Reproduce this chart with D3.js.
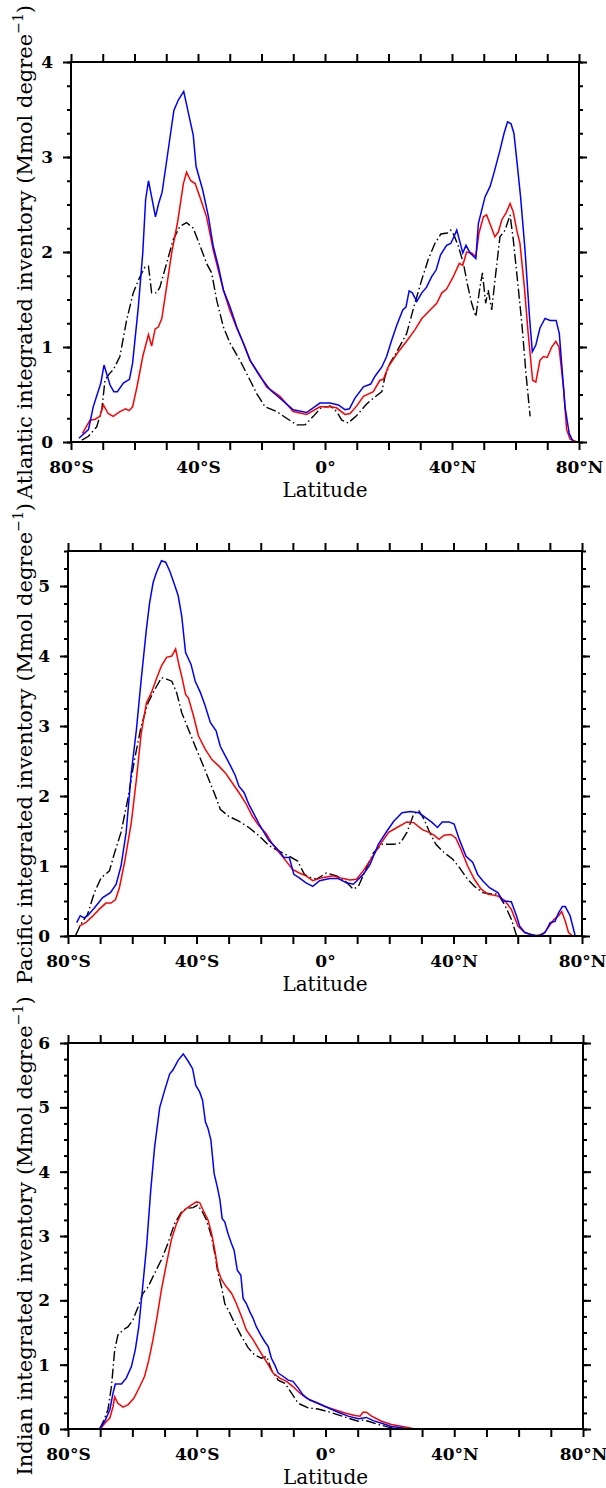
<!DOCTYPE html>
<html>
<head>
<meta charset="utf-8">
<script src="https://cdn.jsdelivr.net/npm/d3@7"></script>
<style>
  body { margin: 0; background: #fff; }
</style>
</head>
<body>
<svg id="chart" width="606" height="1488"></svg>
<script>
// x ticks: every 10 degrees, labelled every 40
const latTicks = d3.range(-80, 81, 10);
const latLabels = [-80, -40, 0, 40, 80];

// Atlantic: [latitude, Mmol per degree]
const atlanticBlue = [[-77.5,0.04],[-74.5,0.13],[-73.0,0.37],[-70.6,0.62],[-69.6,0.81],[-67.7,0.60],[-66.5,0.53],[-65.4,0.53],[-63.5,0.62],[-61.6,0.66],[-60.6,0.83],[-58.8,1.42],[-57.4,1.99],[-56.5,2.55],[-55.6,2.75],[-54.6,2.58],[-53.4,2.37],[-52.4,2.51],[-51.3,2.63],[-49.7,3.0],[-47.6,3.49],[-46.2,3.60],[-44.5,3.69],[-43.0,3.46],[-41.5,3.23],[-40.6,2.90],[-38.5,2.65],[-36.7,2.37],[-35.2,2.06],[-33.6,1.85],[-32.0,1.60],[-29.9,1.42],[-27.8,1.21],[-25.7,1.04],[-23.6,0.86],[-20.5,0.69],[-17.3,0.55],[-14.2,0.46],[-10.0,0.34],[-5.8,0.31],[-1.6,0.41],[1.6,0.41],[4.2,0.39],[6.3,0.34],[7.7,0.35],[9.4,0.46],[12.1,0.58],[14.4,0.61],[15.7,0.69],[17.9,0.79],[19.4,0.90],[21.0,1.07],[22.6,1.23],[24.5,1.39],[25.5,1.42],[26.5,1.59],[27.5,1.57],[28.9,1.48],[30.5,1.57],[32.0,1.63],[33.6,1.74],[35.0,1.81],[36.4,1.97],[38.3,2.07],[39.6,2.09],[40.6,2.16],[41.5,2.23],[42.3,2.13],[43.4,1.99],[44.4,2.07],[45.7,1.99],[47.5,1.93],[48.3,2.30],[50.4,2.58],[52.0,2.69],[53.2,2.83],[55.1,3.07],[56.4,3.25],[57.5,3.37],[58.6,3.35],[59.5,3.25],[60.4,2.97],[61.6,2.58],[63.0,2.02],[64.4,1.32],[65.3,0.95],[66.4,1.02],[67.7,1.20],[69.3,1.30],[70.9,1.28],[72.8,1.28],[73.8,1.14],[75.6,0.37],[76.9,0.09],[78.2,0.0],[79.5,0.0]];
const atlanticRed = [[-76.4,0.09],[-74.0,0.23],[-72.4,0.24],[-70.9,0.27],[-69.8,0.39],[-68.3,0.30],[-66.7,0.27],[-64.6,0.32],[-62.8,0.35],[-61.7,0.33],[-60.6,0.37],[-59.1,0.60],[-57.4,0.90],[-55.6,1.13],[-54.6,1.01],[-53.5,1.19],[-52.5,1.21],[-51.4,1.30],[-49.9,1.63],[-48.3,1.99],[-46.5,2.30],[-44.6,2.72],[-43.6,2.84],[-42.3,2.75],[-40.9,2.72],[-39.4,2.58],[-37.3,2.37],[-35.2,2.02],[-33.6,1.81],[-32.0,1.60],[-29.9,1.38],[-27.8,1.20],[-25.7,1.04],[-23.6,0.86],[-20.5,0.70],[-18.4,0.58],[-14.2,0.48],[-10.0,0.32],[-5.8,0.29],[-1.6,0.37],[1.6,0.37],[3.6,0.36],[6.3,0.29],[7.9,0.30],[10.0,0.38],[12.1,0.48],[15.2,0.53],[17.3,0.65],[18.4,0.66],[19.9,0.79],[23.1,0.95],[25.7,1.06],[28.3,1.18],[30.5,1.30],[33.1,1.39],[35.2,1.46],[36.8,1.57],[38.3,1.61],[40.4,1.74],[42.3,1.88],[43.4,1.86],[44.6,2.00],[46.2,1.99],[47.5,1.95],[48.5,2.20],[49.9,2.37],[50.9,2.39],[52.5,2.25],[53.5,2.16],[54.6,2.21],[55.7,2.34],[57.0,2.41],[58.3,2.51],[59.3,2.42],[60.4,2.23],[61.4,2.09],[62.8,1.63],[64.0,1.14],[65.4,0.65],[66.4,0.63],[67.7,0.86],[68.8,0.90],[70.0,0.89],[71.4,1.00],[72.7,1.06],[73.7,1.00],[75.1,0.58],[76.1,0.13],[77.2,0.03],[79.5,0.0]];
const atlanticBlack = [[-76.6,0.02],[-74.5,0.06],[-71.9,0.16],[-70.3,0.34],[-69.3,0.65],[-67.9,0.72],[-66.7,0.76],[-64.6,0.90],[-62.5,1.28],[-60.4,1.57],[-58.3,1.74],[-56.7,1.84],[-55.6,1.85],[-54.6,1.57],[-53.0,1.57],[-52.0,1.63],[-49.9,1.88],[-47.8,2.13],[-45.7,2.27],[-43.6,2.31],[-41.5,2.25],[-39.4,2.07],[-37.3,1.88],[-35.7,1.78],[-34.1,1.49],[-32.0,1.21],[-29.9,1.04],[-26.8,0.86],[-23.6,0.65],[-21.5,0.51],[-18.9,0.37],[-15.2,0.32],[-12.1,0.25],[-8.9,0.18],[-6.3,0.18],[-3.7,0.27],[-1.0,0.37],[1.0,0.37],[1.6,0.38],[3.7,0.32],[5.3,0.23],[7.3,0.20],[10.0,0.28],[13.1,0.40],[15.2,0.46],[17.9,0.53],[18.9,0.69],[20.5,0.83],[22.6,0.95],[25.7,1.14],[28.3,1.46],[30.5,1.71],[32.5,1.92],[34.6,2.09],[36.5,2.19],[38.5,2.20],[39.6,2.23],[40.6,2.18],[42.0,2.06],[43.6,1.88],[44.8,1.67],[46.2,1.46],[47.5,1.32],[48.8,1.63],[49.6,1.78],[50.6,1.46],[51.4,1.60],[52.5,1.39],[53.8,1.78],[55.1,2.16],[56.7,2.23],[58.3,2.39],[59.3,2.13],[60.6,1.71],[62.0,1.25],[63.3,0.72],[64.6,0.27]];

// Pacific
const pacificBlue = [[-77.3,0.19],[-76.2,0.29],[-75.0,0.26],[-73.9,0.29],[-71.8,0.40],[-69.2,0.55],[-66.8,0.62],[-65.0,0.74],[-63.5,1.00],[-61.9,1.48],[-60.3,2.33],[-58.7,2.95],[-57.2,3.67],[-55.6,4.38],[-54.6,4.76],[-53.5,5.05],[-52.5,5.19],[-50.9,5.36],[-49.6,5.34],[-48.3,5.21],[-46.7,5.00],[-45.7,4.86],[-44.6,4.57],[-43.4,4.05],[-41.7,3.88],[-40.4,3.64],[-38.8,3.48],[-37.3,3.29],[-35.7,3.05],[-33.9,2.93],[-32.6,2.71],[-31.0,2.57],[-29.4,2.43],[-27.9,2.29],[-26.8,2.14],[-25.2,2.05],[-23.7,1.88],[-22.1,1.74],[-20.5,1.60],[-19.0,1.48],[-17.4,1.36],[-15.8,1.29],[-14.2,1.21],[-12.7,1.12],[-11.1,1.12],[-9.7,0.88],[-8.0,0.83],[-5.9,0.76],[-3.8,0.71],[-1.7,0.79],[1.5,0.82],[4.1,0.82],[6.7,0.76],[8.8,0.74],[10.4,0.81],[11.9,0.88],[14.0,1.02],[16.6,1.31],[19.3,1.50],[21.4,1.64],[24.0,1.76],[26.6,1.78],[29.2,1.76],[31.3,1.69],[33.4,1.62],[35.0,1.55],[36.5,1.63],[38.6,1.63],[40.2,1.60],[41.8,1.38],[43.9,1.14],[46.0,1.05],[47.5,0.88],[49.1,0.79],[51.2,0.69],[53.8,0.62],[55.4,0.50],[58.0,0.49],[59.6,0.29],[60.6,0.14],[62.2,0.05],[64.3,0.02],[66.4,0.0],[68.5,0.05],[70.1,0.19],[71.6,0.21],[72.7,0.33],[73.9,0.42],[74.8,0.42],[76.3,0.29],[77.9,0.0]];
const pacificRed = [[-76.5,0.14],[-74.5,0.19],[-72.4,0.28],[-70.3,0.38],[-68.2,0.47],[-66.6,0.47],[-65.2,0.52],[-64.0,0.69],[-62.4,1.05],[-60.3,1.62],[-58.7,2.24],[-57.2,2.90],[-55.6,3.33],[-54.0,3.48],[-52.5,3.67],[-50.9,3.86],[-49.3,3.98],[-47.7,4.00],[-46.5,4.10],[-45.4,3.86],[-44.4,3.67],[-43.4,3.45],[-42.5,3.40],[-40.9,3.14],[-39.4,2.86],[-37.3,2.67],[-35.2,2.52],[-33.1,2.43],[-31.0,2.33],[-28.9,2.19],[-26.8,2.05],[-24.7,1.90],[-22.6,1.71],[-20.5,1.57],[-18.4,1.47],[-16.3,1.31],[-14.2,1.19],[-12.1,1.07],[-10.1,0.95],[-8.0,0.90],[-5.9,0.86],[-3.8,0.79],[-1.2,0.83],[2.5,0.86],[5.7,0.82],[7.7,0.80],[9.8,0.81],[11.9,0.93],[14.6,1.12],[17.2,1.31],[19.8,1.48],[22.4,1.55],[25.5,1.63],[27.6,1.62],[30.3,1.52],[32.4,1.48],[33.9,1.44],[35.5,1.38],[37.1,1.44],[39.2,1.45],[40.7,1.40],[42.3,1.24],[44.4,1.00],[46.5,0.81],[48.6,0.67],[50.7,0.60],[53.8,0.57],[55.9,0.51],[58.0,0.38],[60.1,0.14],[62.2,0.05],[65.3,0.0],[68.0,0.03],[69.5,0.12],[71.1,0.23],[72.7,0.29],[73.7,0.35],[74.8,0.21],[75.8,0.05],[76.9,0.01]];
const pacificBlack = [[-77.6,0.01],[-76.0,0.17],[-73.9,0.31],[-71.8,0.62],[-69.7,0.83],[-67.1,0.93],[-65.5,1.19],[-63.5,1.48],[-61.4,1.95],[-59.3,2.52],[-57.2,3.00],[-55.1,3.33],[-53.0,3.52],[-50.9,3.69],[-49.3,3.67],[-47.7,3.64],[-46.2,3.48],[-44.6,3.19],[-42.5,2.95],[-40.4,2.71],[-38.3,2.48],[-36.2,2.24],[-34.1,2.00],[-32.6,1.81],[-30.0,1.71],[-26.8,1.64],[-23.7,1.55],[-20.5,1.43],[-17.4,1.29],[-14.2,1.21],[-11.1,1.14],[-8.5,1.07],[-6.4,0.88],[-4.3,0.83],[-2.7,0.81],[0.4,0.90],[3.6,0.86],[6.2,0.79],[8.8,0.67],[10.4,0.71],[12.5,0.93],[15.1,1.19],[17.7,1.31],[21.4,1.31],[23.5,1.33],[25.5,1.48],[27.6,1.74],[29.2,1.79],[30.8,1.67],[32.4,1.50],[34.5,1.31],[37.1,1.19],[39.7,1.10],[41.8,0.98],[44.4,0.81],[46.5,0.71],[49.1,0.62],[51.7,0.60],[53.8,0.60],[55.9,0.45],[58.0,0.24],[59.6,0.01]];

// Indian
const indianBlue = [[-70.2,0.0],[-68.6,0.12],[-67.0,0.30],[-66.0,0.56],[-65.3,0.70],[-63.4,0.70],[-61.9,0.79],[-60.3,0.97],[-59.1,1.23],[-58.0,1.59],[-57.0,2.11],[-55.6,2.83],[-54.3,3.71],[-53.1,4.38],[-51.5,5.00],[-50.0,5.26],[-48.4,5.52],[-47.4,5.58],[-45.8,5.73],[-44.2,5.83],[-42.7,5.72],[-41.3,5.60],[-40.3,5.34],[-39.1,5.24],[-38.2,5.11],[-37.3,4.77],[-36.5,4.67],[-35.6,4.49],[-34.6,3.97],[-33.6,3.76],[-32.8,3.56],[-32.1,3.27],[-31.3,3.22],[-30.3,3.04],[-29.2,2.88],[-28.4,2.78],[-27.4,2.47],[-26.3,2.39],[-25.6,2.03],[-24.6,1.95],[-23.5,1.82],[-22.5,1.72],[-21.5,1.59],[-20.1,1.46],[-18.9,1.36],[-17.8,1.28],[-16.8,1.10],[-15.8,1.00],[-14.7,0.87],[-13.2,0.82],[-11.6,0.76],[-10.1,0.74],[-8.5,0.64],[-7.0,0.53],[-4.9,0.45],[-2.3,0.40],[0.8,0.33],[3.9,0.26],[7.0,0.20],[10.2,0.16],[12.7,0.18],[14.8,0.13],[17.4,0.09],[20.5,0.04],[24.7,0.01]];
const indianRed = [[-69.9,0.0],[-68.6,0.09],[-67.0,0.17],[-66.0,0.35],[-65.5,0.50],[-64.5,0.40],[-62.9,0.34],[-61.3,0.38],[-59.5,0.48],[-57.7,0.66],[-56.2,0.82],[-54.9,1.07],[-53.6,1.39],[-52.3,1.75],[-51.0,2.16],[-49.4,2.57],[-47.9,2.94],[-46.3,3.19],[-44.8,3.35],[-43.2,3.43],[-41.7,3.48],[-40.1,3.53],[-39.1,3.52],[-38.0,3.40],[-36.5,3.25],[-35.4,3.04],[-34.4,2.78],[-33.4,2.47],[-32.3,2.32],[-30.8,2.21],[-29.2,2.11],[-27.7,1.95],[-26.1,1.75],[-24.6,1.54],[-22.5,1.39],[-21.0,1.26],[-19.4,1.13],[-17.8,1.00],[-16.3,0.87],[-14.2,0.79],[-12.1,0.74],[-10.1,0.66],[-8.0,0.56],[-5.9,0.48],[-3.3,0.42],[-0.2,0.35],[2.9,0.30],[6.0,0.25],[9.1,0.21],[10.7,0.20],[11.7,0.26],[12.7,0.26],[14.3,0.20],[17.4,0.12],[20.5,0.07],[24.7,0.03],[27.8,0.0]];
const indianBlack = [[-70.2,0.0],[-68.8,0.14],[-67.6,0.30],[-66.5,0.66],[-65.5,1.23],[-64.5,1.46],[-62.9,1.54],[-61.3,1.59],[-59.8,1.70],[-58.2,1.90],[-56.7,2.11],[-55.1,2.21],[-53.1,2.42],[-51.0,2.63],[-49.0,2.88],[-46.9,3.19],[-44.8,3.37],[-43.2,3.43],[-41.1,3.44],[-39.8,3.48],[-38.5,3.40],[-37.0,3.25],[-35.4,2.99],[-34.4,2.73],[-33.4,2.42],[-32.3,2.21],[-31.3,1.95],[-29.7,1.80],[-28.2,1.64],[-26.1,1.44],[-24.0,1.26],[-22.0,1.15],[-19.9,1.10],[-18.3,1.13],[-16.8,0.92],[-14.7,0.76],[-12.6,0.71],[-10.6,0.56],[-8.5,0.40],[-5.4,0.33],[-2.3,0.31],[0.8,0.27],[3.9,0.22],[7.0,0.17],[10.2,0.12],[11.7,0.14],[13.3,0.12],[16.4,0.07],[19.5,0.03],[22.6,0.0]];

const svg = d3.select("#chart");
const serif = "'DejaVu Serif', serif";

function latFormat(d) {
  if (!latLabels.includes(d)) return "";
  if (d === 0) return "0°";
  return Math.abs(d) + "°" + (d < 0 ? "S" : "N");
}

function drawPanel(p) {
  const x = d3.scaleLinear().domain([-80, 80]).range([p.left, p.right]);
  const y = d3.scaleLinear().domain([0, p.ymax]).range([p.bottom, p.top]);
  const g = svg.append("g");

  const minor = d3.range(0, p.ymax + 0.001, 0.25);
  const major = d3.range(0, p.ymax + 0.001, 1);

  // bottom & top axes
  const bx = g.append("g").attr("transform", `translate(0,${p.bottom})`)
    .call(d3.axisBottom(x).tickValues(latTicks).tickSize(8).tickSizeOuter(0).tickFormat(latFormat));
  bx.selectAll("text").attr("y", 19).attr("dy", "0.71em");
  g.append("g").attr("transform", `translate(0,${p.top})`)
    .call(d3.axisTop(x).tickValues(latTicks).tickSize(8).tickSizeOuter(0).tickFormat(""));

  // left & right, minor then major
  g.append("g").attr("transform", `translate(${p.left},0)`)
    .call(d3.axisLeft(y).tickValues(minor).tickSize(4).tickSizeOuter(0).tickFormat(""));
  g.append("g").attr("transform", `translate(${p.left},0)`)
    .call(d3.axisLeft(y).tickValues(major).tickSize(8).tickSizeOuter(0).tickPadding(10).tickFormat(d3.format("d")));
  g.append("g").attr("transform", `translate(${p.right},0)`)
    .call(d3.axisRight(y).tickValues(minor).tickSize(4).tickSizeOuter(0).tickFormat(""));
  g.append("g").attr("transform", `translate(${p.right},0)`)
    .call(d3.axisRight(y).tickValues(major).tickSize(8).tickSizeOuter(0).tickFormat(""));

  g.selectAll(".tick line").attr("stroke", "#000").attr("stroke-width", 2);
  g.selectAll(".domain").remove();
  g.selectAll(".tick text")
    .attr("font-family", serif).attr("font-weight", "bold").attr("font-size", 17).attr("fill", "#000");

  // data lines
  const line = d3.line().x(d => x(d[0])).y(d => y(d[1]));
  g.append("path").datum(p.black).attr("d", line)
    .attr("fill", "none").attr("stroke", "#000").attr("stroke-width", 1.4)
    .attr("stroke-dasharray", "10,3,1.5,3");
  g.append("path").datum(p.red).attr("d", line)
    .attr("fill", "none").attr("stroke", "#ff0000").attr("stroke-width", 1.5);
  g.append("path").datum(p.blue).attr("d", line)
    .attr("fill", "none").attr("stroke", "#0000ff").attr("stroke-width", 1.5);

  // frame
  g.append("rect").attr("x", p.left).attr("y", p.top)
    .attr("width", p.right - p.left).attr("height", p.bottom - p.top)
    .attr("fill", "none").attr("stroke", "#000").attr("stroke-width", 2);

  // titles
  g.append("text").attr("x", (p.left + p.right) / 2).attr("y", p.bottom + 55)
    .attr("text-anchor", "middle").attr("font-family", serif).attr("font-size", 20)
    .text("Latitude");

  const yt = g.append("text")
    .attr("transform", `translate(32,${(p.top + p.bottom) / 2}) rotate(-90)`)
    .attr("text-anchor", "middle").attr("font-family", serif).attr("font-size", 21);
  yt.append("tspan").text(p.name + " integrated inventory (Mmol degree");
  yt.append("tspan").attr("dy", -9).attr("font-size", 14).text("\u22121");
  yt.append("tspan").attr("dy", 9).text(")");
}

drawPanel({name: "Atlantic", left: 71, right: 579, top: 62, bottom: 442, ymax: 4,
  blue: atlanticBlue, red: atlanticRed, black: atlanticBlack});
drawPanel({name: "Pacific", left: 68, right: 582, top: 551, bottom: 936, ymax: 5.5,
  blue: pacificBlue, red: pacificRed, black: pacificBlack});
drawPanel({name: "Indian", left: 68, right: 583, top: 1043, bottom: 1429, ymax: 6,
  blue: indianBlue, red: indianRed, black: indianBlack});
</script>
</body>
</html>
